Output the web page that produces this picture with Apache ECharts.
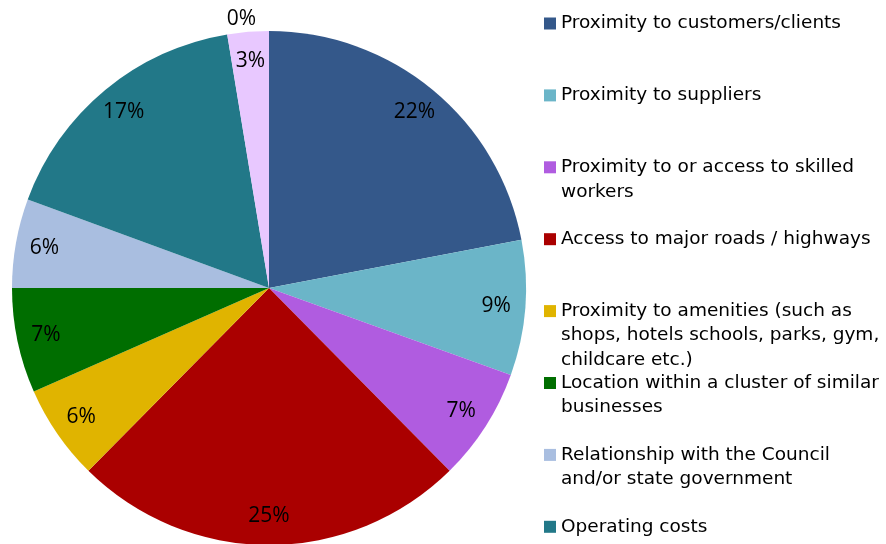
<!DOCTYPE html>
<html>
<head>
<meta charset="utf-8">
<script src="https://cdn.jsdelivr.net/npm/echarts@6/dist/echarts.min.js"></script>
<style>
html,body{margin:0;padding:0;background:#fff;}
#chart{width:886px;height:544px;}
</style>
</head>
<body>
<div id="chart"></div>
<script>
// ---- data ----
const categories = [
  'Proximity to customers/clients',
  'Proximity to suppliers',
  'Proximity to or access to skilled workers',
  'Access to major roads / highways',
  'Proximity to amenities (such as shops, hotels schools, parks, gym, childcare etc.)',
  'Location within a cluster of similar businesses',
  'Relationship with the Council and/or state government',
  'Operating costs',
  'Other',
  'Not sure'
];
// share of responses (%); labels show rounded values
const values = [22.0, 8.5, 7.1, 24.8, 6.0, 6.6, 5.6, 16.8, 2.6, 0.0];
const colors = ['#34588A', '#6BB5C8', '#B05CE0', '#AA0000', '#E0B400', '#006E00', '#A9BEE0', '#227888', '#E8C8FF', '#8C8C8C'];
// legend text as wrapped in the reference
const legendLines = [
  ['Proximity to customers/clients'],
  ['Proximity to suppliers'],
  ['Proximity to or access to skilled', 'workers'],
  ['Access to major roads / highways'],
  ['Proximity to amenities (such as', 'shops, hotels schools, parks, gym,', 'childcare etc.)'],
  ['Location within a cluster of similar', 'businesses'],
  ['Relationship with the Council', 'and/or state government'],
  ['Operating costs']
];

const LEG_FONT = '"DejaVu Sans", Verdana, sans-serif';
const LH = 24.4;
const LEG_FIRST = 23.5, LEG_STEP = 71.9;
const CX = 269, CY = 288, R = 257;

const chart = echarts.init(document.getElementById('chart'), null, {renderer: 'canvas'});

const pieData = categories.map((c, i) => ({name: c, value: values[i], itemStyle: {color: colors[i]}}));
const labelData = categories.map((c, i) => {
  const d = {name: c, value: values[i]};
  if (values[i] === 0) {
    d.label = {position: 'outside', padding: [0, 8, 0, 0]};
    d.labelLine = {show: false, length: 12, length2: 0};
  }
  return d;
});

const legends = legendLines.map((lines, i) => {
  const n = lines.length;
  const box = LH * (2 * n - 1);
  // leading blank lines keep the icon level with the first text line
  const txt = '\n'.repeat(n - 1) + lines.join('\n');
  return {
    data: [categories[i]],
    orient: 'vertical',
    left: 544,
    top: LEG_FIRST + LEG_STEP * i - box / 2,
    padding: 0,
    itemWidth: 12,
    itemHeight: 12,
    icon: 'rect',
    selectedMode: false,
    formatter: () => txt,
    textStyle: {fontFamily: LEG_FONT, fontSize: 18.5, lineHeight: LH, color: '#000'}
  };
});

chart.setOption({
  animation: false,
  backgroundColor: '#fff',
  legend: legends,
  series: [
    {
      type: 'pie',
      center: [CX, CY],
      radius: [0, R],
      startAngle: 90,
      clockwise: true,
      data: pieData,
      label: {show: false},
      labelLine: {show: false},
      itemStyle: {borderWidth: 0},
      emphasis: {disabled: true},
      silent: true
    },
    {
      type: 'pie',
      center: [CX, CY],
      radius: [R - 64, R],
      startAngle: 90,
      clockwise: true,
      data: labelData,
      itemStyle: {color: 'rgba(0,0,0,0)', borderWidth: 0},
      label: {
        show: true,
        position: 'inside',
        formatter: p => Math.round(p.value) + '%',
        fontFamily: '"Open Sans", sans-serif',
        fontSize: 21,
        color: '#000'
      },
      labelLine: {show: false},
      emphasis: {disabled: true},
      silent: true,
      legendHoverLink: false
    }
  ]
});
</script>
</body>
</html>
